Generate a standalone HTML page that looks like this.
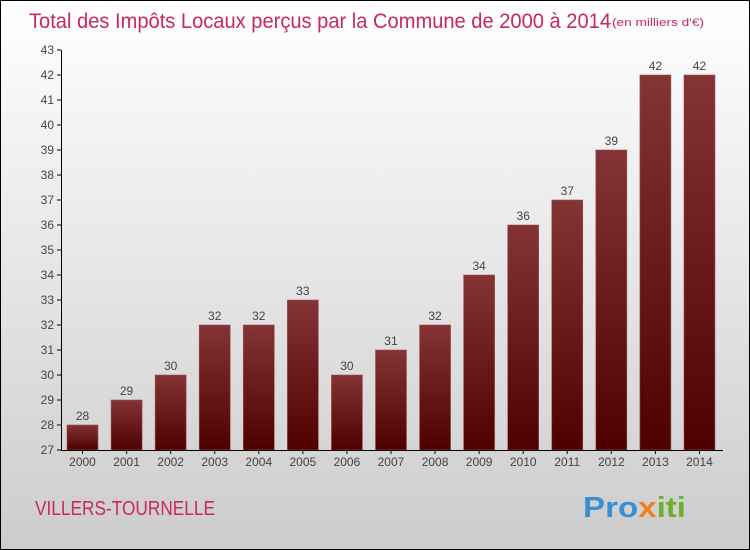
<!DOCTYPE html>
<html><head><meta charset="utf-8"><style>
body{margin:0}
#c{width:748px;height:548px;border:1px solid #000;background:linear-gradient(#fff,#ccc);position:relative;font-family:"Liberation Sans",sans-serif;overflow:hidden}
</style></head><body>
<div id="c">
<svg id="s" width="748" height="548" style="position:absolute;left:0;top:0">
<defs><linearGradient id="g" x1="0" y1="0" x2="0" y2="1"><stop offset="0" stop-color="#853436"/><stop offset="1" stop-color="#4e0000"/></linearGradient></defs>
<text x="28" y="27" font-size="21" fill="#c8295a" textLength="582" lengthAdjust="spacingAndGlyphs">Total des Impôts Locaux perçus par la Commune de 2000 à 2014</text>
<text x="611" y="25" font-size="11" fill="#c8295a" textLength="92" lengthAdjust="spacingAndGlyphs">(en milliers d'€)</text>
<text x="34" y="514" font-size="20" fill="#c8295a" textLength="180" lengthAdjust="spacingAndGlyphs">VILLERS-TOURNELLE</text>
<text x="582" y="516" font-size="29" font-weight="bold" fill="#3a8fd0" textLength="103" lengthAdjust="spacingAndGlyphs">Pro<tspan fill="#f08020">x</tspan><tspan fill="#6cb030">iti</tspan></text>
</svg>
</div>
<script>
const years=["2000","2001","2002","2003","2004","2005","2006","2007","2008","2009","2010","2011","2012","2013","2014"];
const values=[28,29,30,32,32,33,30,31,32,34,36,37,39,42,42];
const yTicks=[27,28,29,30,31,32,33,34,35,36,37,38,39,40,41,42,43];
const s=document.getElementById('s'),NS='http://www.w3.org/2000/svg';
const y=v=>449-(v-27)*25, x=i=>66+i*44.07;
function mk(t,a,txt){const e=document.createElementNS(NS,t);for(const k in a)e.setAttribute(k,a[k]);if(txt!=null)e.textContent=txt;s.appendChild(e);return e;}
yTicks.forEach(v=>{
 const l=mk('line',{x1:56,x2:60,y1:y(v),y2:y(v),stroke:'#000'});
 
 
 const t=mk('text',{x:53,y:y(v)+4,'font-size':12,fill:'#444','text-anchor':'end'},v);
 
 
});
values.forEach((v,i)=>{
 const r=mk('rect',{x:x(i),y:y(v),width:31,height:y(27)-y(v),fill:'url(#g)',stroke:'#a05050','stroke-width':0.6});
 
 
 const t=mk('text',{x:x(i)+15.5,y:y(v)-5,'font-size':12,fill:'#444','text-anchor':'middle'},v);
 
 
 const k=mk('line',{x1:x(i)+15.5,x2:x(i)+15.5,y1:449,y2:453,stroke:'#000'});
 
 
 const xl=mk('text',{x:x(i)+15.5,y:465,'font-size':12,fill:'#444','text-anchor':'middle'},years[i]);
 
 
});
const ya=mk('line',{x1:60.5,x2:60.5,y1:y(43),y2:450,stroke:'#000'});


const xa=mk('line',{x1:60,x2:722,y1:449.5,y2:449.5,stroke:'#000'});


</script>
</body></html>
